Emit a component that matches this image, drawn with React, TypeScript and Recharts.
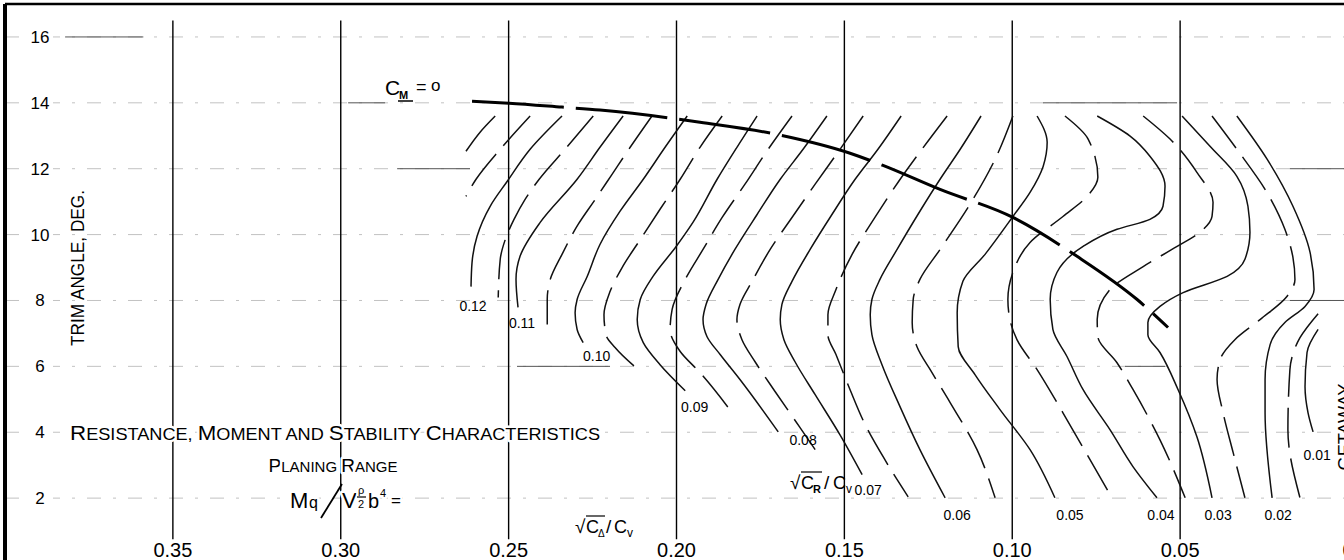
import React from 'react';
import { ComposedChart, Line, XAxis, YAxis, CartesianGrid, ReferenceLine, ReferenceDot } from 'recharts';

type Pt = { x: number; y: number };

// axis values
const xTickValues = [0.35, 0.3, 0.25, 0.2, 0.15, 0.1, 0.05, 0];
const xTickLabels = ['0.35', '0.30', '0.25', '0.20', '0.15', '0.10', '0.05', '0'];
const yTickValues = [2, 4, 6, 8, 10, 12, 14, 16];
const topTickValues = [0.02, 0.04, 0.06, 0.08, 0.1, 0.12, 0.14, 0.16, 0.18, 0.2, 0.22, 0.24, 0.26, 0.28, 0.3, 0.32, 0.34, 0.36, 0.38];
const verticalRules = [0.35, 0.3, 0.25, 0.2, 0.15, 0.1, 0.05];

// C_M = 0 boundary
const cmZero: Pt[] = [
  { x: 0.2609, y: 14.05 }, { x: 0.2499, y: 13.99 }, { x: 0.2341, y: 13.87 }, { x: 0.2228, y: 13.78 },
  { x: 0.2013, y: 13.53 }, { x: 0.193, y: 13.41 }, { x: 0.1691, y: 13.02 }, { x: 0.1483, y: 12.47 },
  { x: 0.1385, y: 12.1 }, { x: 0.1215, y: 11.37 }, { x: 0.0998, y: 10.52 }, { x: 0.0807, y: 9.34 },
  { x: 0.0628, y: 8.03 }, { x: 0.0536, y: 7.18 },
];

// sqrt(C_R)/C_V contours (trim angle vs sqrt(C_delta)/C_V)
const cr0130: Pt[] = [{ x: 0.254, y: 13.6 }, { x: 0.2585, y: 13.11 }, { x: 0.2627, y: 12.53 }];
const cr0125: Pt[] = [{ x: 0.2436, y: 13.6 }, { x: 0.2525, y: 12.59 }, { x: 0.2597, y: 11.68 }, { x: 0.2627, y: 11.16 }];
const cr0120: Pt[] = [
  { x: 0.2341, y: 13.6 }, { x: 0.2436, y: 12.59 }, { x: 0.2504, y: 11.62 }, { x: 0.2555, y: 10.86 },
  { x: 0.2594, y: 9.95 }, { x: 0.2609, y: 9.15 }, { x: 0.2612, y: 8.42 },
];
const cr0115: Pt[] = [
  { x: 0.2248, y: 13.6 }, { x: 0.2332, y: 12.59 }, { x: 0.2409, y: 11.68 }, { x: 0.2451, y: 11.07 },
  { x: 0.2484, y: 10.46 }, { x: 0.251, y: 9.85 }, { x: 0.2525, y: 9.25 }, { x: 0.2531, y: 8.09 },
];
const cr0110: Pt[] = [
  { x: 0.2159, y: 13.6 }, { x: 0.2228, y: 12.65 }, { x: 0.2296, y: 11.68 }, { x: 0.2406, y: 10.37 },
  { x: 0.2466, y: 9.34 }, { x: 0.2478, y: 8.64 }, { x: 0.2472, y: 7.79 },
];
const cr0105: Pt[] = [
  { x: 0.2073, y: 13.6 }, { x: 0.2138, y: 12.65 }, { x: 0.2192, y: 11.83 }, { x: 0.2242, y: 11.07 },
  { x: 0.2293, y: 10.31 }, { x: 0.2341, y: 9.4 }, { x: 0.2376, y: 8.64 }, { x: 0.2385, y: 8.03 }, { x: 0.2385, y: 7.27 },
];
const cr0100: Pt[] = [
  { x: 0.1968, y: 13.6 }, { x: 0.2034, y: 12.65 }, { x: 0.2099, y: 11.68 }, { x: 0.2168, y: 10.71 },
  { x: 0.2228, y: 9.7 }, { x: 0.2266, y: 8.73 }, { x: 0.2296, y: 8.03 }, { x: 0.2302, y: 7.63 },
  { x: 0.2296, y: 7.12 }, { x: 0.2278, y: 6.72 },
];
const cr0095: Pt[] = [
  { x: 0.1864, y: 13.6 }, { x: 0.193, y: 12.65 }, { x: 0.1989, y: 11.68 }, { x: 0.2049, y: 10.77 },
  { x: 0.2108, y: 9.85 }, { x: 0.2162, y: 9.0 }, { x: 0.2198, y: 8.27 }, { x: 0.2216, y: 7.57 },
  { x: 0.221, y: 6.96 }, { x: 0.2183, y: 6.57 }, { x: 0.2114, y: 5.9 },
];
const cr0090: Pt[] = [
  { x: 0.176, y: 13.6 }, { x: 0.182, y: 12.65 }, { x: 0.1879, y: 11.68 }, { x: 0.1951, y: 10.37 },
  { x: 0.2001, y: 9.64 }, { x: 0.207, y: 8.73 }, { x: 0.2108, y: 8.03 }, { x: 0.2117, y: 7.42 },
  { x: 0.2099, y: 6.72 }, { x: 0.2049, y: 6.05 }, { x: 0.1974, y: 5.26 },
];
const cr0085: Pt[] = [
  { x: 0.1656, y: 13.6 }, { x: 0.1727, y: 12.59 }, { x: 0.1796, y: 11.53 }, { x: 0.1864, y: 10.52 },
  { x: 0.1921, y: 9.55 }, { x: 0.1974, y: 8.64 }, { x: 0.2013, y: 7.73 }, { x: 0.2019, y: 7.12 },
  { x: 0.1989, y: 6.45 }, { x: 0.193, y: 5.81 }, { x: 0.1834, y: 4.59 },
];
const cr0080: Pt[] = [
  { x: 0.1552, y: 13.6 }, { x: 0.1623, y: 12.59 }, { x: 0.1691, y: 11.68 }, { x: 0.176, y: 10.61 },
  { x: 0.1826, y: 9.55 }, { x: 0.1876, y: 8.64 }, { x: 0.1912, y: 7.88 }, { x: 0.1921, y: 7.42 },
  { x: 0.1909, y: 6.9 }, { x: 0.187, y: 6.36 }, { x: 0.1811, y: 5.6 }, { x: 0.1697, y: 4.01 },
];
const cr0075: Pt[] = [
  { x: 0.1444, y: 13.6 }, { x: 0.1513, y: 12.59 }, { x: 0.1587, y: 11.53 }, { x: 0.1656, y: 10.52 },
  { x: 0.1721, y: 9.55 }, { x: 0.1775, y: 8.58 }, { x: 0.1811, y: 7.88 }, { x: 0.182, y: 7.42 },
  { x: 0.1805, y: 6.81 }, { x: 0.1766, y: 6.14 }, { x: 0.1706, y: 5.23 }, { x: 0.1632, y: 4.14 }, { x: 0.1587, y: 3.47 },
];
const cr0070: Pt[] = [
  { x: 0.1331, y: 13.6 }, { x: 0.14, y: 12.59 }, { x: 0.1468, y: 11.68 }, { x: 0.1537, y: 10.61 },
  { x: 0.1602, y: 9.55 }, { x: 0.1656, y: 8.58 }, { x: 0.1686, y: 7.88 }, { x: 0.1691, y: 7.42 },
  { x: 0.168, y: 6.81 }, { x: 0.1647, y: 6.14 }, { x: 0.1587, y: 5.14 }, { x: 0.1513, y: 3.92 }, { x: 0.1447, y: 2.71 },
];
const cr0065: Pt[] = [
  { x: 0.1194, y: 13.6 }, { x: 0.1269, y: 12.59 }, { x: 0.134, y: 11.59 }, { x: 0.1409, y: 10.52 },
  { x: 0.1477, y: 9.4 }, { x: 0.1525, y: 8.33 }, { x: 0.1549, y: 7.57 }, { x: 0.1549, y: 6.96 },
  { x: 0.1525, y: 6.36 }, { x: 0.1483, y: 5.29 }, { x: 0.1438, y: 4.23 }, { x: 0.1379, y: 3.16 }, { x: 0.131, y: 2.04 },
];
const cr0060: Pt[] = [
  { x: 0.1093, y: 13.6 }, { x: 0.1155, y: 12.59 }, { x: 0.1215, y: 11.68 }, { x: 0.1281, y: 10.61 },
  { x: 0.1343, y: 9.55 }, { x: 0.1394, y: 8.64 }, { x: 0.1418, y: 8.03 }, { x: 0.1423, y: 7.57 },
  { x: 0.1418, y: 6.96 }, { x: 0.1388, y: 6.05 }, { x: 0.1334, y: 4.77 }, { x: 0.1275, y: 3.47 }, { x: 0.12, y: 2.01 },
];
const cr0055: Pt[] = [
  { x: 0.0998, y: 13.6 }, { x: 0.1051, y: 12.29 }, { x: 0.1126, y: 10.92 }, { x: 0.1215, y: 9.55 },
  { x: 0.1275, y: 8.64 }, { x: 0.1295, y: 8.03 }, { x: 0.1298, y: 7.33 }, { x: 0.1284, y: 6.6 },
  { x: 0.1239, y: 5.81 }, { x: 0.1185, y: 4.9 }, { x: 0.1105, y: 3.47 }, { x: 0.1051, y: 2.01 },
];
const cr0050: Pt[] = [
  { x: 0.0926, y: 13.6 }, { x: 0.0896, y: 12.8 }, { x: 0.0908, y: 12.07 }, { x: 0.0947, y: 11.28 },
  { x: 0.0998, y: 10.55 }, { x: 0.1081, y: 9.4 }, { x: 0.1147, y: 8.58 }, { x: 0.1164, y: 7.63 },
  { x: 0.1161, y: 6.6 }, { x: 0.1111, y: 5.75 }, { x: 0.1036, y: 4.68 }, { x: 0.0947, y: 3.47 }, { x: 0.0873, y: 2.01 },
];
const cr0045: Pt[] = [
  { x: 0.0843, y: 13.6 }, { x: 0.0774, y: 12.9 }, { x: 0.0745, y: 11.74 }, { x: 0.0777, y: 11.16 },
  { x: 0.0849, y: 10.55 }, { x: 0.0947, y: 9.76 }, { x: 0.0998, y: 8.85 }, { x: 0.1013, y: 8.03 },
  { x: 0.1007, y: 7.42 }, { x: 0.0986, y: 6.81 }, { x: 0.0926, y: 5.9 }, { x: 0.0849, y: 4.59 },
  { x: 0.0768, y: 3.16 }, { x: 0.0703, y: 2.01 },
];
const cr0040: Pt[] = [
  { x: 0.0747, y: 13.6 }, { x: 0.0649, y: 12.99 }, { x: 0.059, y: 12.38 }, { x: 0.0545, y: 11.47 },
  { x: 0.0551, y: 10.86 }, { x: 0.059, y: 10.46 }, { x: 0.0688, y: 10.16 }, { x: 0.0789, y: 9.64 },
  { x: 0.0867, y: 8.85 }, { x: 0.0887, y: 8.03 }, { x: 0.0879, y: 7.12 }, { x: 0.0837, y: 6.3 },
  { x: 0.0789, y: 5.29 }, { x: 0.0709, y: 4.08 }, { x: 0.064, y: 2.95 }, { x: 0.0569, y: 2.01 },
];
const cr0035: Pt[] = [
  { x: 0.061, y: 13.6 }, { x: 0.053, y: 12.9 }, { x: 0.045, y: 11.89 }, { x: 0.0402, y: 10.98 },
  { x: 0.0405, y: 10.55 }, { x: 0.0441, y: 10.07 }, { x: 0.0509, y: 9.64 }, { x: 0.061, y: 9.03 },
  { x: 0.0709, y: 8.33 }, { x: 0.0747, y: 7.42 }, { x: 0.0745, y: 6.9 }, { x: 0.0688, y: 6.11 },
  { x: 0.064, y: 5.29 }, { x: 0.056, y: 3.77 }, { x: 0.0485, y: 2.01 },
];
const cr0030: Pt[] = [
  { x: 0.0494, y: 13.6 }, { x: 0.0411, y: 12.68 }, { x: 0.0331, y: 11.77 }, { x: 0.0298, y: 10.86 },
  { x: 0.0292, y: 10.07 }, { x: 0.0307, y: 9.25 }, { x: 0.036, y: 8.73 }, { x: 0.0491, y: 8.24 },
  { x: 0.056, y: 7.82 }, { x: 0.0596, y: 7.33 }, { x: 0.0596, y: 6.96 }, { x: 0.056, y: 6.42 },
  { x: 0.0506, y: 5.29 }, { x: 0.045, y: 3.86 }, { x: 0.0405, y: 2.01 },
];
const cr0025: Pt[] = [
  { x: 0.0405, y: 13.6 }, { x: 0.0331, y: 12.59 }, { x: 0.0238, y: 11.22 }, { x: 0.0188, y: 10.16 },
  { x: 0.0164, y: 9.31 }, { x: 0.0158, y: 8.64 }, { x: 0.0182, y: 8.12 }, { x: 0.0262, y: 7.42 },
  { x: 0.0337, y: 6.81 }, { x: 0.0381, y: 6.2 }, { x: 0.039, y: 5.6 }, { x: 0.0372, y: 4.59 },
  { x: 0.0342, y: 3.38 }, { x: 0.0307, y: 2.01 },
];
const cr0020: Pt[] = [
  { x: 0.0331, y: 13.6 }, { x: 0.0241, y: 12.29 }, { x: 0.0164, y: 10.86 }, { x: 0.0113, y: 9.46 },
  { x: 0.0101, y: 8.33 }, { x: 0.0128, y: 7.82 }, { x: 0.0188, y: 7.33 }, { x: 0.0232, y: 6.66 },
  { x: 0.0247, y: 5.6 }, { x: 0.0247, y: 4.59 }, { x: 0.0226, y: 2.01 },
];
const cr0015: Pt[] = [{ x: 0.0089, y: 7.6 }, { x: 0.0143, y: 6.87 }, { x: 0.0173, y: 5.9 }, { x: 0.0179, y: 4.08 }, { x: 0.0143, y: 2.01 }];
const cr0010: Pt[] = [{ x: 0.0089, y: 7.12 }, { x: 0.0122, y: 6.42 }, { x: 0.0128, y: 5.38 }, { x: 0.0119, y: 4.59 }, { x: 0.0104, y: 4.01 }];

const contours = [
  { key: 'c0130', dashed: false, data: cr0130 },
  { key: 'c0125', dashed: true, data: cr0125 },
  { key: 'c0120', dashed: false, data: cr0120 },
  { key: 'c0115', dashed: true, data: cr0115 },
  { key: 'c0110', dashed: false, data: cr0110 },
  { key: 'c0105', dashed: true, data: cr0105 },
  { key: 'c0100', dashed: false, data: cr0100 },
  { key: 'c0095', dashed: true, data: cr0095 },
  { key: 'c0090', dashed: false, data: cr0090 },
  { key: 'c0085', dashed: true, data: cr0085 },
  { key: 'c0080', dashed: false, data: cr0080 },
  { key: 'c0075', dashed: true, data: cr0075 },
  { key: 'c0070', dashed: false, data: cr0070 },
  { key: 'c0065', dashed: true, data: cr0065 },
  { key: 'c0060', dashed: false, data: cr0060 },
  { key: 'c0055', dashed: true, data: cr0055 },
  { key: 'c0050', dashed: false, data: cr0050 },
  { key: 'c0045', dashed: true, data: cr0045 },
  { key: 'c0040', dashed: false, data: cr0040 },
  { key: 'c0035', dashed: true, data: cr0035 },
  { key: 'c0030', dashed: false, data: cr0030 },
  { key: 'c0025', dashed: true, data: cr0025 },
  { key: 'c0020', dashed: false, data: cr0020 },
  { key: 'c0015', dashed: true, data: cr0015 },
  { key: 'c0010', dashed: false, data: cr0010 },
];

const contourLabelText = ['0.12', '0.11', '0.10', '0.09', '0.08', '0.07', '0.06', '0.05', '0.04', '0.03', '0.02', '0.01'];
const contourLabelX = [0.2606, 0.246, 0.2238, 0.1946, 0.1623, 0.1429, 0.1164, 0.0828, 0.0557, 0.0387, 0.0208, 0.0092];
const contourLabelY = [7.82, 7.3, 6.3, 4.77, 3.77, 2.25, 1.49, 1.49, 1.49, 1.49, 1.49, 3.32];

const solidGridY = [16, 14, 12, 6, 14, 12, 6, 8];
const solidGridFrom = [0.3821, 0.2978, 0.2832, 0.2475, 0.0908, 0.0173, 0.0664, 0.0173];
const solidGridTo = [0.3588, 0.2868, 0.2615, 0.2198, 0.0509, 0.0, 0.0545, 0.0];

const FONT = '"Liberation Sans", Arial, sans-serif';
const HALO = { stroke: '#fff', strokeWidth: 5, paintOrder: 'stroke' as const, strokeLinejoin: 'round' as const };

const XTick = (props: any) => {
  const { x, y, payload } = props;
  const idx = xTickValues.indexOf(payload.value);
  return (
    <text x={x} y={y - 7} textAnchor="middle" fontSize={20} fill="#000" fontFamily={FONT}>
      {idx >= 0 ? xTickLabels[idx] : String(payload.value)}
    </text>
  );
};

const YTick = (props: any) => {
  const { y, payload } = props;
  return (
    <g>
      <rect x={28} y={y - 9} width={25} height={18} fill="#fff" />
      <text x={40} y={y + 6} textAnchor="middle" fontSize={17} fill="#000" fontFamily={FONT}>
        {payload.value}
      </text>
    </g>
  );
};

export default function App() {
  return (
    <div
      style={{
        position: 'fixed', left: 0, top: 0, width: 1344, height: 560, overflow: 'hidden',
        background: '#fff', fontFamily: FONT,
      }}
    >
      <ComposedChart width={1364} height={580} margin={{ top: 0, right: 16, bottom: 0, left: 0 }}>
        <CartesianGrid vertical={false} stroke="#c2c2c2" strokeDasharray="14 12 3 12" />
        <XAxis
          type="number" dataKey="x" domain={[0, 0.4]} reversed allowDataOverflow ticks={xTickValues}
          interval={0} height={16} axisLine={false} tickLine={false} tickSize={0} tickMargin={0}
          tick={(p: any) => <XTick {...p} />}
        />
        <XAxis
          xAxisId="top" orientation="top" type="number" domain={[0, 0.4]} reversed allowDataOverflow
          ticks={topTickValues} interval={0} height={4} axisLine={{ stroke: '#000', strokeWidth: 2.5 }}
          tickLine={{ stroke: '#000', strokeWidth: 1.5 }} tickSize={4} tick={false}
        />
        <YAxis
          type="number" domain={[0, 17]} allowDataOverflow ticks={yTickValues} interval={0} width={5}
          axisLine={{ stroke: '#000', strokeWidth: 4 }} tickLine={false} tickSize={0} tickMargin={0}
          tick={(p: any) => <YTick {...p} />}
        />
        {verticalRules.map((v) => (
          <ReferenceLine key={'v' + v} segment={[{ x: v, y: 0.75 }, { x: v, y: 16.5 }]} stroke="#000" strokeWidth={1.4} />
        ))}
        {solidGridY.map((gy, i) => (
          <ReferenceLine
            key={'g' + i}
            segment={[{ x: solidGridFrom[i], y: gy }, { x: solidGridTo[i], y: gy }]}
            stroke="#555" strokeWidth={1}
          />
        ))}
        {contours.map((c) => (
          <Line
            key={c.key} data={c.data} dataKey="y" type="monotoneY" stroke="#111" strokeWidth={1.5}
            strokeDasharray={c.dashed ? '40 11' : undefined} dot={false} activeDot={false}
            isAnimationActive={false} legendType="none"
          />
        ))}
        <Line
          data={cmZero} dataKey="y" type="monotoneX" stroke="#000" strokeWidth={3} strokeDasharray="92 12"
          dot={false} activeDot={false} isAnimationActive={false} legendType="none"
        />
        {contourLabelText.map((t, i) => (
          <ReferenceDot
            key={'l' + t} x={contourLabelX[i]} y={contourLabelY[i]} r={0} fill="none" stroke="none"
            label={{ value: t, position: 'center', fontSize: 14, fill: '#000', fontFamily: FONT }}
          />
        ))}
      </ComposedChart>
      <svg
        width={1344} height={560}
        style={{ position: 'absolute', left: 0, top: 0, pointerEvents: 'none' }}
        fontFamily={FONT}
      >
        <text transform="translate(84,268) rotate(-90)" textAnchor="middle" fontSize={18} textLength={156} lengthAdjust="spacingAndGlyphs">
          TRIM ANGLE, DEG.
        </text>
        <text x={70} y={440} textLength={530} lengthAdjust="spacingAndGlyphs" {...HALO}>
          <tspan fontSize={21}>R</tspan><tspan fontSize={17}>ESISTANCE, </tspan>
          <tspan fontSize={21}>M</tspan><tspan fontSize={17}>OMENT AND </tspan>
          <tspan fontSize={21}>S</tspan><tspan fontSize={17}>TABILITY </tspan>
          <tspan fontSize={21}>C</tspan><tspan fontSize={17}>HARACTERISTICS</tspan>
        </text>
        <text x={333} y={472} textAnchor="middle" {...HALO}>
          <tspan fontSize={19}>P</tspan><tspan fontSize={15}>LANING </tspan>
          <tspan fontSize={19}> R</tspan><tspan fontSize={15}>ANGE</tspan>
        </text>
        {/* Mq / V rho/2 b^4 = */}
        <g {...HALO}>
          <text x={290} y={508} fontSize={22}>M</text>
          <text x={309} y={508} fontSize={16}>q</text>
          <text x={342} y={508} fontSize={22}>V</text>
          <text x={358} y={494} fontSize={11}>ρ</text>
          <text x={358} y={508} fontSize={11}>2</text>
          <text x={368} y={508} fontSize={20}>b</text>
          <text x={380} y={497} fontSize={11}>4</text>
          <text x={391} y={506} fontSize={17}>=</text>
        </g>
        <line x1={321} y1={518} x2={342} y2={484} stroke="#000" strokeWidth={1.8} />
        <line x1={357} y1={497} x2={366} y2={497} stroke="#000" strokeWidth={1.2} />
        {/* sqrt(C_delta)/C_v */}
        <text x={575} y={533} fontSize={19}>√</text>
        <line x1={586} y1={516} x2={605} y2={516} stroke="#000" strokeWidth={1.2} />
        <text x={586} y={533} fontSize={18}>C</text>
        <text x={598} y={537} fontSize={10}>Δ</text>
        <text x={606} y={533} fontSize={19}>/</text>
        <text x={614} y={533} fontSize={18}>C</text>
        <text x={627} y={537} fontSize={12}>v</text>
        {/* sqrt(C_R)/C_v */}
        <text x={790} y={489} fontSize={19}>√</text>
        <line x1={801} y1={472} x2={822} y2={472} stroke="#000" strokeWidth={1.2} />
        <text x={801} y={489} fontSize={18}>C</text>
        <text x={813} y={493} fontSize={11} fontWeight="bold">R</text>
        <text x={824} y={489} fontSize={19}>/</text>
        <text x={833} y={489} fontSize={18}>C</text>
        <text x={846} y={493} fontSize={12}>v</text>
        {/* C_M = o */}
        <text x={385} y={95} fontSize={21}>C</text>
        <text x={399} y={99} fontSize={11} fontWeight="bold">M</text>
        <line x1={398} y1={101} x2={413} y2={101} stroke="#000" strokeWidth={1.5} />
        <text x={416} y={93} fontSize={18}>=</text>
        <text x={431} y={91} fontSize={17}>o</text>
        <text transform="translate(1351,427) rotate(-90)" textAnchor="middle" fontSize={18} textLength={87} lengthAdjust="spacingAndGlyphs">
          GETAWAY
        </text>
      </svg>
    </div>
  );
}
